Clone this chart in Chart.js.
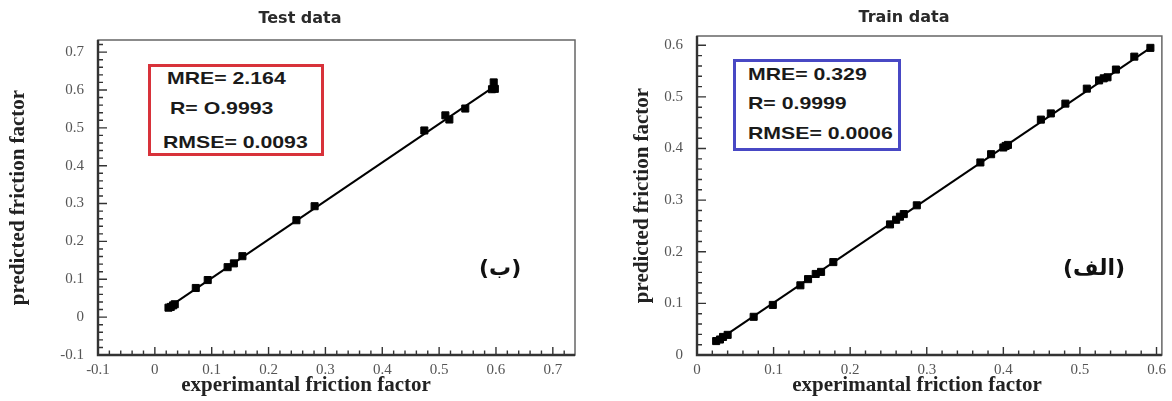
<!DOCTYPE html>
<html>
<head>
<meta charset="utf-8">
<title>friction factor</title>
<script src="https://cdn.jsdelivr.net/npm/chart.js@4.4.1/dist/chart.umd.min.js"></script>
<style>
  html, body { margin: 0; padding: 0; background: #fff; }
  body { position: relative; width: 1172px; height: 401px; overflow: hidden; }
  .panel { position: absolute; top: 0; height: 401px; }
  .box { position: absolute; box-sizing: border-box; background: #fff; }
  .box span { position: absolute; left: 12px; line-height: 20px; white-space: nowrap;
              font: bold 17px "Liberation Sans", Arial, sans-serif; color: #1a1a1a;
              transform: scaleX(1.25); transform-origin: 0 50%; }
  .ptitle { position: absolute; line-height: 20px; white-space: nowrap; transform: translateX(-50%);
            font: bold 16px "DejaVu Sans", sans-serif; color: #2a2a2a; }
  .xtitle { position: absolute; top: 372px; line-height: 24px; font: bold 21px "Liberation Serif", serif;
            color: #222; white-space: nowrap; transform: translateX(-50%); }
  .tag { position: absolute; line-height: 26px; font: bold 22px "DejaVu Sans", sans-serif; color: #111; }
</style>
</head>
<body>
<div class="panel" style="left:0;width:600px"><canvas id="testChart"></canvas></div>
<div class="panel" style="left:620px;width:552px"><canvas id="trainChart"></canvas></div>

<div class="ptitle" style="left:300px;top:8px">Test data</div>
<div class="ptitle" style="left:904px;top:7px">Train data</div>

<div class="box" style="left:148px;top:64px;width:176px;height:92px;border:3px solid #d8323a">
  <span style="top:2px;left:16px">MRE= 2.164</span>
  <span style="top:32px;left:19px">R= O.9993</span>
  <span style="top:66px">RMSE= 0.0093</span>
</div>
<div class="box" style="left:733px;top:59px;width:168px;height:92px;border:3px solid #4848c4">
  <span style="top:3px">MRE= 0.329</span>
  <span style="top:32px">R= 0.9999</span>
  <span style="top:62px">RMSE= 0.0006</span>
</div>

<div class="tag" dir="rtl" style="left:479px;top:255px">(ب)</div>
<div class="tag" dir="rtl" style="left:1063px;top:255px">(الف)</div>

<div class="xtitle" style="left:306px">experimantal friction factor</div>
<div class="xtitle" style="left:917px">experimantal friction factor</div>

<script>
// test set (left panel)
const testActual    = [0.024, 0.028, 0.032, 0.035, 0.072, 0.093, 0.128, 0.139, 0.154, 0.249, 0.281, 0.474, 0.511, 0.518, 0.546, 0.593, 0.596, 0.598];
const testPredicted = [0.025, 0.027, 0.031, 0.034, 0.077, 0.098, 0.132, 0.142, 0.161, 0.256, 0.293, 0.493, 0.533, 0.522, 0.551, 0.602, 0.620, 0.603];
const testFitX = [0.020, 0.600];
const testFitY = [0.022, 0.612];
const testTicks = [-0.1, 0, 0.1, 0.2, 0.3, 0.4, 0.5, 0.6, 0.7];
const testTickLabels = ['-0.1', '0', '0.1', '0.2', '0.3', '0.4', '0.5', '0.6', '0.7'];

// train set (right panel)
const trainActual    = [0.025, 0.030, 0.034, 0.040, 0.074, 0.099, 0.135, 0.145, 0.155, 0.162, 0.178, 0.252, 0.260, 0.265, 0.270, 0.287, 0.370, 0.384, 0.400, 0.403, 0.406, 0.449, 0.462, 0.481, 0.509, 0.525, 0.531, 0.536, 0.547, 0.571, 0.592];
const trainPredicted = [0.027, 0.030, 0.035, 0.039, 0.074, 0.097, 0.135, 0.147, 0.157, 0.161, 0.180, 0.253, 0.262, 0.268, 0.273, 0.290, 0.373, 0.389, 0.402, 0.405, 0.407, 0.456, 0.468, 0.487, 0.516, 0.532, 0.536, 0.538, 0.553, 0.578, 0.595];
const trainFitX = [0.024, 0.594];
const trainFitY = [0.025, 0.597];
const trainTicks = [0, 0.1, 0.2, 0.3, 0.4, 0.5, 0.6];
const trainTickLabels = ['0', '0.1', '0.2', '0.3', '0.4', '0.5', '0.6'];

const serif = '"Liberation Serif", "Times New Roman", serif';

// box round the plot + inward ticks (major every 0.1, minor every 0.02)
const frameTicks = {
    id: 'frameTicks',
    afterDraw(chart) {
        const { ctx, chartArea: a, scales: { x, y } } = chart;
        ctx.save();
        ctx.strokeStyle = '#666';
        ctx.lineWidth = 1.5;
        ctx.strokeRect(a.left, a.top, a.width, a.height);

        ctx.strokeStyle = '#333';
        ctx.lineWidth = 1.4;
        ctx.beginPath();
        for (let n = Math.ceil(x.min / 0.02 - 1e-6); n * 0.02 <= x.max + 1e-6; n++) {
            const px = x.getPixelForValue(n * 0.02);
            const len = n % 5 === 0 ? 8 : 4.5;
            ctx.moveTo(px, a.bottom);
            ctx.lineTo(px, a.bottom - len);
        }
        for (let n = Math.ceil(y.min / 0.02 - 1e-6); n * 0.02 <= y.max + 1e-6; n++) {
            const py = y.getPixelForValue(n * 0.02);
            const len = n % 5 === 0 ? 9 : 5;
            ctx.moveTo(a.left, py);
            ctx.lineTo(a.left + len, py);
        }
        ctx.stroke();

        ctx.lineWidth = 2.4;
        ctx.beginPath();
        ctx.moveTo(a.left, a.top);
        ctx.lineTo(a.left, a.bottom);
        ctx.lineTo(a.right, a.bottom);
        ctx.stroke();
        ctx.restore();
    }
};

function pairs(xs, ys) {
    return xs.map((v, i) => ({ x: v, y: ys[i] }));
}

function makeChart(id, cfg) {
    const ctx = document.getElementById(id).getContext('2d');
    return new Chart(ctx, {
        type: 'scatter',
        data: {
            datasets: [{
                data: pairs(cfg.fitX, cfg.fitY),
                showLine: true,
                borderColor: '#000',
                borderWidth: 2,
                pointRadius: 0
            }, {
                data: pairs(cfg.xs, cfg.ys),
                pointStyle: 'rect',
                pointRadius: 5,
                borderWidth: 1,
                backgroundColor: '#000',
                borderColor: '#000'
            }]
        },
        options: {
            responsive: true,
            maintainAspectRatio: false,
            animation: false,
            layout: { padding: { left: 0, right: cfg.padRight, top: cfg.padTop, bottom: 0 } },
            plugins: {
                legend: { display: false },
                tooltip: { enabled: false }
            },
            scales: {
                x: {
                    type: 'linear',
                    min: cfg.xMin,
                    max: cfg.xMax,
                    afterBuildTicks: s => { s.ticks = cfg.ticks.map(v => ({ value: v })); },
                    afterFit: s => { s.height = 46; },
                    grid: { display: false, drawTicks: false },
                    border: { display: false },
                    ticks: {
                        autoSkip: false,
                        maxRotation: 0,
                        padding: 6,
                        color: '#555',
                        font: { family: serif, size: 15 },
                        callback: (v, i) => cfg.tickLabels[i]
                    }
                },
                y: {
                    type: 'linear',
                    min: cfg.yMin,
                    max: cfg.yMax,
                    afterBuildTicks: s => { s.ticks = cfg.ticks.map(v => ({ value: v })); },
                    afterFit: s => { s.width = cfg.yWidth; },
                    grid: { display: false, drawTicks: false },
                    border: { display: false },
                    ticks: {
                        autoSkip: false,
                        padding: 14,
                        color: '#555',
                        font: { family: serif, size: 15 },
                        callback: (v, i) => cfg.tickLabels[i]
                    },
                    title: {
                        display: true,
                        text: 'predicted friction factor',
                        color: '#222',
                        font: { family: serif, size: 21, weight: 'bold' },
                        padding: { top: cfg.yTitlePad, bottom: 0 }
                    }
                }
            }
        },
        plugins: [frameTicks]
    });
}

document.addEventListener('DOMContentLoaded', function() {
    makeChart('testChart', {
        xs: testActual, ys: testPredicted,
        fitX: testFitX, fitY: testFitY,
        ticks: testTicks, tickLabels: testTickLabels,
        xMin: -0.1, xMax: 0.739, yMin: -0.1, yMax: 0.732,
        yWidth: 98, yTitlePad: 6, padRight: 25, padTop: 40
    });
    makeChart('trainChart', {
        xs: trainActual, ys: trainPredicted,
        fitX: trainFitX, fitY: trainFitY,
        ticks: trainTicks, tickLabels: trainTickLabels,
        xMin: 0, xMax: 0.607, yMin: 0, yMax: 0.618,
        yWidth: 77, yTitlePad: 10, padRight: 9, padTop: 36
    });
});
</script>
</body>
</html>
